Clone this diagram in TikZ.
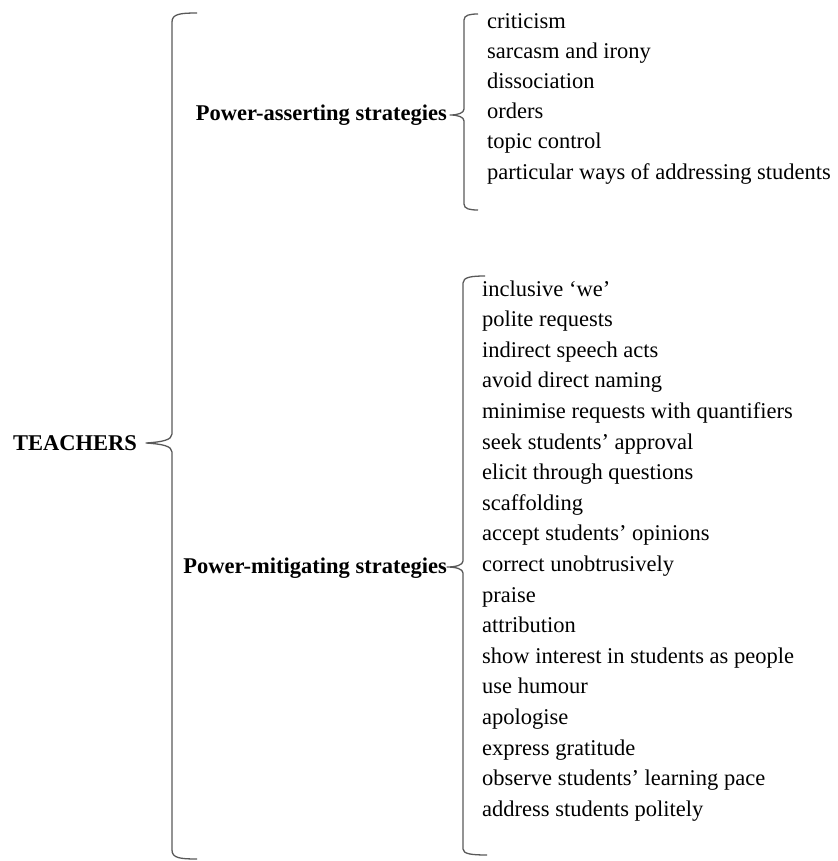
\documentclass[tikz,border=0pt]{standalone}
\usepackage{fontspec}
\setmainfont{Liberation Serif}
\begin{document}
\begin{tikzpicture}[x=1pt,y=-1pt,
  txt/.style={inner sep=0pt,anchor=base west,font=\fontsize{22.5}{27}\selectfont},
  hd/.style={inner sep=0pt,font=\fontsize{22.5}{27}\selectfont\bfseries},
  brace/.style={draw=black!65,line width=1.3pt,line join=round}]
\useasboundingbox (0,0) rectangle (837,861);
% labels
\node[hd,anchor=base west] (t) at (13,450) {TEACHERS};
\node[hd,anchor=base east] (pa) at (447,121) {Power-asserting strategies};
\node[hd,anchor=base east] (pm) at (447,573) {Power-mitigating strategies};
% asserting items
\foreach \s [count=\i from 0] in {criticism,sarcasm and irony,dissociation,orders,topic control,particular ways of addressing students}
  \node[txt] (a\i) at (487,{29+30*\i}) {\s};
% mitigating items
\foreach \s [count=\i from 0] in {inclusive ‘we’,polite requests,indirect speech acts,avoid direct naming,minimise requests with quantifiers,seek students’ approval,elicit through questions,scaffolding,accept students’ opinions,correct unobtrusively,praise,attribution,show interest in students as people,use humour,apologise,express gratitude,observe students’ learning pace,address students politely}
  \node[txt] (m\i) at (482,{296+30.6*\i}) {\s};
% big brace
\draw[brace] (197,13) .. controls (180,13) and (172,14) .. (172,22) -- (172,434)
  .. controls (172,440) and (162,442) .. (146,443)
  .. controls (162,444) and (172,446) .. (172,452) -- (172,850)
  .. controls (172,858) and (180,859) .. (197,859);
% upper brace
\draw[brace] (478,14) .. controls (470,14) and (464,15) .. (464,20) -- (464,109)
  .. controls (464,113) and (458,115) .. (450,115)
  .. controls (458,115) and (464,117) .. (464,121) -- (464,204)
  .. controls (464,209) and (470,210) .. (478,210);
% lower brace
\draw[brace] (485,276) .. controls (472,276) and (463,277) .. (463,283) -- (463,561)
  .. controls (463,565) and (456,567) .. (447,567)
  .. controls (456,567) and (463,569) .. (463,573) -- (463,849)
  .. controls (463,854) and (472,855) .. (487,855);
\end{tikzpicture}
\end{document}
